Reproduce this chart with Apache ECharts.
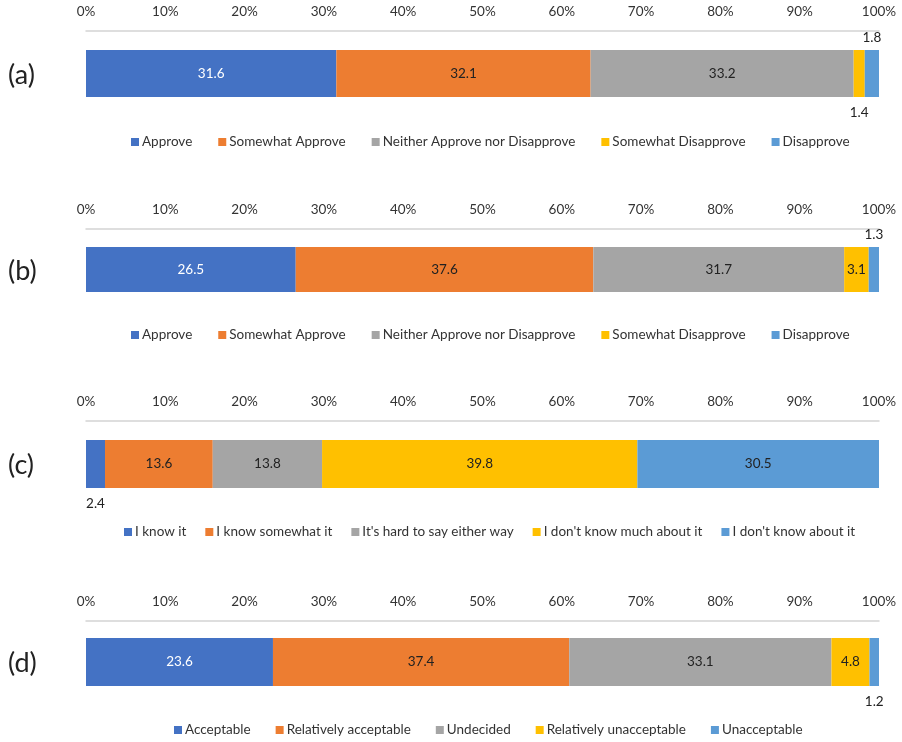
<!DOCTYPE html>
<html>
<head>
<meta charset="utf-8">
<script src="https://cdn.jsdelivr.net/npm/echarts@6/dist/echarts.min.js"></script>
<style>
  html, body { margin: 0; padding: 0; background: #fff; }
  #main { width: 902px; height: 742px; }
</style>
</head>
<body>
<div id="main"></div>
<script>
// 各面板的数据
const panelLabels = ['(a)', '(b)', '(c)', '(d)'];
const approveCats = ['Approve', 'Somewhat Approve', 'Neither Approve nor Disapprove', 'Somewhat Disapprove', 'Disapprove'];
const knowCats = ['I know it', 'I know somewhat it', "It's hard to say either way", "I don't know much about it", "I don't know about it"];
const acceptCats = ['Acceptable', 'Relatively acceptable', 'Undecided', 'Relatively unacceptable', 'Unacceptable'];
const valuesA = [31.6, 32.1, 33.2, 1.4, 1.8];
const valuesB = [26.5, 37.6, 31.7, 3.1, 1.3];
const valuesC = [2.4, 13.6, 13.8, 39.8, 30.5];
const valuesD = [23.6, 37.4, 33.1, 4.8, 1.2];
const tickValues = [0, 10, 20, 30, 40, 50, 60, 70, 80, 90, 100];

const colors = ['#4472C4', '#ED7D31', '#A5A5A5', '#FFC000', '#5B9BD5'];
const labelColors = ['#fff', '#222', '#222', '#222', '#222'];

// 每个面板的布局
const panels = [
  { cats: approveCats, vals: valuesA, axisY: 31, h: 85, bar: 47, legendY: 135, legendX: 131, gap: 26, outside: { 3: 'bottom', 4: 'top' } },
  { cats: approveCats, vals: valuesB, axisY: 229, h: 81, bar: 45, legendY: 328, legendX: 131, gap: 26, outside: { 4: 'top' } },
  { cats: knowCats, vals: valuesC, axisY: 421, h: 86, bar: 48, legendY: 525, legendX: 124, gap: 19, outside: { 0: 'bottom' } },
  { cats: acceptCats, vals: valuesD, axisY: 621, h: 82, bar: 48, legendY: 723, legendX: 174, gap: 25, outside: { 4: 'bottom' } }
];
const font = 'Lato';

const grid = [], xAxis = [], yAxis = [], series = [], legend = [], title = [];

panels.forEach((p, i) => {
  const total = p.vals.reduce((s, v) => s + v, 0);
  grid.push({ left: 86, width: 793, top: p.axisY, height: p.h });
  xAxis.push({
    gridIndex: i, type: 'value', position: 'top', min: 0, max: 100, interval: 10,
    axisLine: { show: true, lineStyle: { color: '#d4d4d4', width: 1.5 } },
    axisTick: { show: false },
    splitLine: { show: false },
    axisLabel: { formatter: '{value}%', color: '#333', fontSize: 13.5, margin: 12, fontFamily: font,
      customValues: tickValues }
  });
  yAxis.push({ gridIndex: i, type: 'category', data: [''], show: false });
  title.push({ text: panelLabels[i], left: 3, top: p.axisY + p.h / 2 - 17,
    textStyle: { fontSize: 27, fontWeight: 'normal', color: '#222', fontFamily: font } });
  p.cats.forEach((c, j) => {
    const side = p.outside[j];
    series.push({
      name: c, type: 'bar', stack: 'p' + i, xAxisIndex: i, yAxisIndex: i,
      barWidth: p.bar,
      itemStyle: { color: colors[j] },
      data: [{ value: p.vals[j] / total * 100, raw: p.vals[j] }],
      label: {
        show: true,
        position: side || 'inside',
        distance: side === 'bottom' ? 9 : 5,
        formatter: d => d.data.raw,
        color: side ? '#222' : labelColors[j],
        fontSize: 13.5,
        fontFamily: font
      }
    });
  });
  legend.push({
    data: p.cats, top: p.legendY, left: p.legendX, padding: 0,
    itemWidth: 8, itemHeight: 8, itemGap: p.gap, icon: 'rect', selectedMode: false,
    textStyle: { fontSize: 13.5, color: '#333', fontFamily: font, padding: [0, 0, 0, -2] }
  });
});

const chart = echarts.init(document.getElementById('main'));
chart.setOption({ animation: false, title, grid, xAxis, yAxis, series, legend });
</script>
</body>
</html>
